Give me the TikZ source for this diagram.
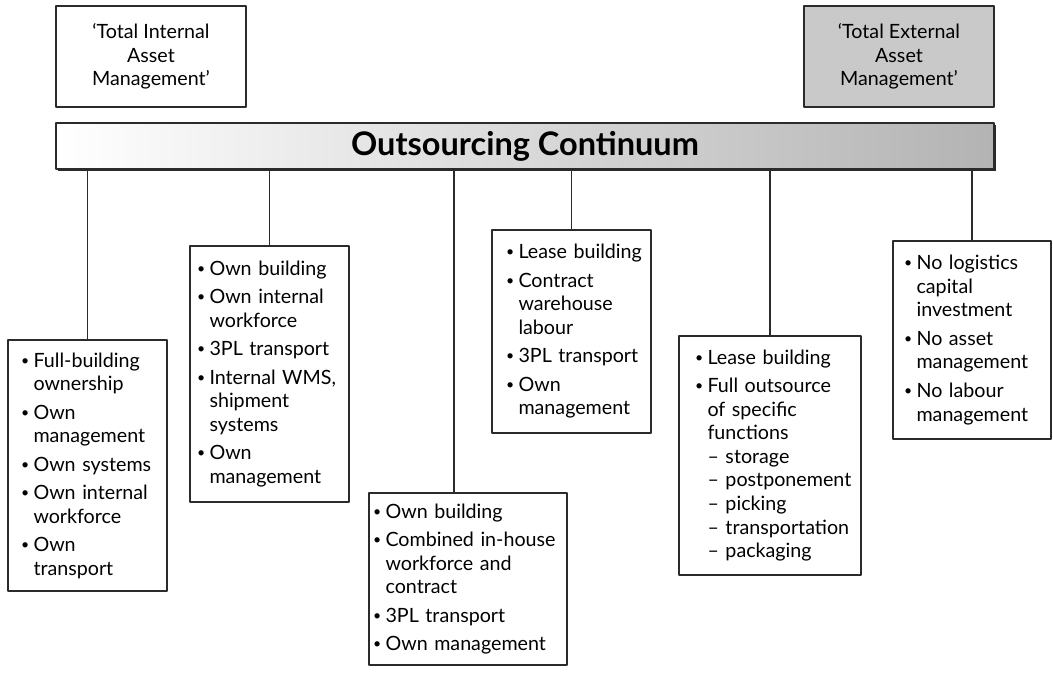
\documentclass[tikz,border=0pt]{standalone}
\usepackage{fontspec}
\setmainfont{Lato}
\usepackage{tikz}
\usetikzlibrary{calc, shadows}
\definecolor{ink}{HTML}{2B2B2B}
\definecolor{greybox}{HTML}{C9C9C9}
\definecolor{barend}{HTML}{B3B3B3}
\newcommand{\boxfont}{\fontsize{11.2}{13.4}\selectfont}
\newcommand{\bu}[1]{\mbox{\makebox[0.25cm][l]{\raisebox{0.2ex}{\fontsize{8}{8}\selectfont\textbullet}}#1}}
\newcommand{\cn}[1]{\mbox{\hspace*{0.25cm}#1}}
\newcommand{\gap}{\\[2.8pt]}

\begin{document}
\begin{tikzpicture}[x=0.02cm, y=-0.02cm, line join=round,
    ln/.style={draw=ink, line width=0.8pt},
    topbox/.style={draw=ink, line width=0.8pt, minimum width=3.8cm, minimum height=2.02cm,
                   align=center, font=\boxfont},
    bar/.style={draw=ink, line width=0.8pt, left color=white, right color=barend,
                minimum width=18.76cm, minimum height=0.92cm, font=\fontsize{18.5}{20}\selectfont\bfseries,
                drop shadow={shadow xshift=0.9pt, shadow yshift=-1.1pt, fill=ink, opacity=1}},
    itembox/.style={draw=ink, line width=0.8pt, fill=white, align=left, font=\boxfont, inner ysep=0pt}]
  \useasboundingbox (0,0) rectangle (1053,672);
  % the two ends of the continuum
  \node[topbox]               (tl) at (151,56.5) {`Total Internal\\Asset\\Management'};
  \node[topbox, fill=greybox] (tr) at (899,56.5) {`Total External\\Asset\\Management'};
  \node[bar] (bar) at (525,146) {Outsourcing Continuum};
  % the six options along it
  \node[itembox, minimum height=5.02cm, text width=2.66cm, inner xsep=0.26cm] (b1) at (87.5,465.5)
    {\bu{Full-building}\\ \cn{ownership}\gap \bu{Own}\\ \cn{management}\gap \bu{Own systems}\gap
     \bu{Own internal}\\ \cn{workforce}\gap \bu{Own}\\ \cn{transport}};
  \node[itembox, minimum height=5.12cm, text width=2.9cm, inner xsep=0.14cm] (b2) at (269.5,374)
    {\bu{Own building}\gap \bu{Own internal}\\ \cn{workforce}\gap \bu{3PL transport}\gap
     \bu{Internal WMS,}\\ \cn{shipment}\\ \cn{systems}\gap \bu{Own}\\ \cn{management}};
  \node[itembox, minimum height=3.44cm, text width=3.8cm, inner xsep=0.08cm] (b3) at (468,579)
    {\bu{Own building}\gap \bu{Combined in-house}\\ \cn{workforce and}\\ \cn{contract}\gap
     \bu{3PL transport}\gap \bu{Own management}};
  \node[itembox, minimum height=4.06cm, text width=2.62cm, inner xsep=0.28cm] (b4) at (571.5,331.5)
    {\bu{Lease building}\gap \bu{Contract}\\ \cn{warehouse}\\ \cn{labour}\gap \bu{3PL transport}\gap
     \bu{Own}\\ \cn{management}};
  \node[itembox, minimum height=4.78cm, text width=3.0cm, inner xsep=0.32cm] (b5) at (770,455.5)
    {\bu{Lease building}\gap \bu{Full outsource}\\ \cn{of specific}\\ \cn{functions}\\ \cn{-- storage}\\
     \cn{-- postponement}\\ \cn{-- picking}\\ \cn{-- transportation}\\ \cn{-- packaging}};
  \node[itembox, minimum height=3.96cm, text width=2.72cm, inner xsep=0.22cm] (b6) at (972,340)
    {\bu{No logistics}\\ \cn{capital}\\ \cn{investment}\gap \bu{No asset}\\ \cn{management}\gap
     \bu{No labour}\\ \cn{management}};
  \coordinate (k3) at (454,493);
  % drop lines from the bar
  \draw[ln] (b1.north |- bar.south) -- (b1.north);
  \draw[ln] (b2.north |- bar.south) -- (b2.north);
  \draw[ln] (k3 |- bar.south) -- (k3);
  \draw[ln] (b4.north |- bar.south) -- (b4.north);
  \draw[ln] (b5.north |- bar.south) -- (b5.north);
  \draw[ln] (b6.north |- bar.south) -- (b6.north);
\end{tikzpicture}
\end{document}
